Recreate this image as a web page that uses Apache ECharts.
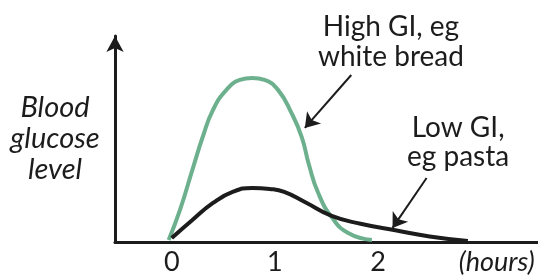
<!DOCTYPE html>
<html>
<head>
<meta charset="utf-8">
<script src="https://cdn.jsdelivr.net/npm/echarts@6/dist/echarts.min.js"></script>
<style>
  html, body { margin: 0; padding: 0; background: #fff; }
  #chart { width: 538px; height: 276px; }
</style>
</head>
<body>
<div id="chart"></div>
<script>
// curves: [hours, glucose level]
var highGI = [
  [-0.03, 0.1], [0.08, 1.62], [0.20, 3.64], [0.30, 5.30], [0.40, 6.67],
  [0.53, 7.68], [0.66, 8.18], [0.78, 8.28], [0.90, 8.18], [1.03, 7.68],
  [1.16, 6.52], [1.26, 5.30], [1.33, 3.9], [1.42, 2.47], [1.55, 1.26],
  [1.71, 0.45], [1.94, 0.1]
];
var lowGI = [
  [0, 0.2], [0.20, 1.11], [0.40, 1.97], [0.59, 2.53], [0.78, 2.73],
  [0.95, 2.68], [1.09, 2.53], [1.29, 2.02], [1.55, 1.32], [1.83, 0.92],
  [2.18, 0.58], [2.50, 0.28], [2.87, 0.05]
];
// pointer arrows [from, to] in data units
var highArrow = [[1.74, 8.43], [1.29, 5.76]];
var lowArrow = [[2.47, 3.23], [2.14, 0.71]];
var tickLabels = { '0': '0', '1': '1', '2': '2' };
var unitLabel = '(hours)';
var unitAt = 3.15;

var font = 'Lato, "DejaVu Sans", sans-serif';
var ink = '#1c1c1c';

var chart = echarts.init(document.getElementById('chart'));

function arrowLine(pair) {
  return [{ coord: pair[0], symbol: 'none' }, { coord: pair[1], symbol: 'arrow' }];
}

chart.setOption({
  animation: false,
  grid: { left: 115, right: 0, top: 36, bottom: 34, outerBoundsMode: 'none' },
  xAxis: {
    type: 'value',
    min: -0.55,
    max: 3.55,
    interval: 0.05,
    axisLine: { lineStyle: { color: ink, width: 3 } },
    axisTick: { show: false },
    splitLine: { show: false },
    axisLabel: {
      margin: 7,
      color: ink,
      fontFamily: font,
      fontSize: 27,
      showMinLabel: false,
      showMaxLabel: false,
      formatter: function (v) {
        var r = Math.round(v * 100) / 100;
        if (Math.abs(r - unitAt) < 1e-6) return '{u|' + unitLabel + '}';
        if (Math.abs(r - Math.round(r)) < 1e-6 && tickLabels[String(Math.round(r))] !== undefined) {
          return tickLabels[String(Math.round(r))];
        }
        return '';
      },
      rich: {
        u: { fontStyle: 'italic', fontFamily: font, fontSize: 27, color: ink }
      }
    }
  },
  yAxis: {
    type: 'value',
    min: 0,
    max: 10.4,
    name: 'Blood\nglucose\nlevel',
    nameLocation: 'middle',
    nameRotate: 0,
    nameGap: 60,
    nameTextStyle: {
      align: 'center',
      fontStyle: 'italic',
      fontFamily: font,
      fontSize: 29,
      lineHeight: 31,
      color: ink,
      padding: [0, 0, 8, 0]
    },
    axisLine: {
      show: true,
      onZero: false,
      symbol: ['none', 'arrow'],
      symbolSize: [13, 16],
      lineStyle: { color: ink, width: 3 }
    },
    axisTick: { show: false },
    axisLabel: { show: false },
    splitLine: { show: false }
  },
  graphic: [
    {
      type: 'text', left: 318, top: 12,
      style: { text: 'High GI, eg\nwhite bread', fill: ink, font: '28px ' + font, textAlign: 'center', lineHeight: 30, width: 136 }
    },
    {
      type: 'text', left: 407, top: 113,
      style: { text: 'Low GI,\neg pasta', fill: ink, font: '28px ' + font, textAlign: 'center', lineHeight: 29, width: 100 }
    }
  ],
  series: [
    {
      name: 'High GI',
      type: 'line',
      smooth: 0.5,
      symbol: 'none',
      data: highGI,
      lineStyle: { color: '#6db08e', width: 4 },
      z: 2
    },
    {
      name: 'Low GI',
      type: 'line',
      smooth: 0.5,
      symbol: 'none',
      data: lowGI,
      lineStyle: { color: ink, width: 4 },
      z: 3,
      markLine: {
        silent: true,
        symbolSize: 14,
        label: { show: false },
        lineStyle: { color: ink, width: 2, type: 'solid' },
        emphasis: { disabled: true },
        data: [arrowLine(highArrow), arrowLine(lowArrow)]
      }
    }
  ]
});
</script>
</body>
</html>
